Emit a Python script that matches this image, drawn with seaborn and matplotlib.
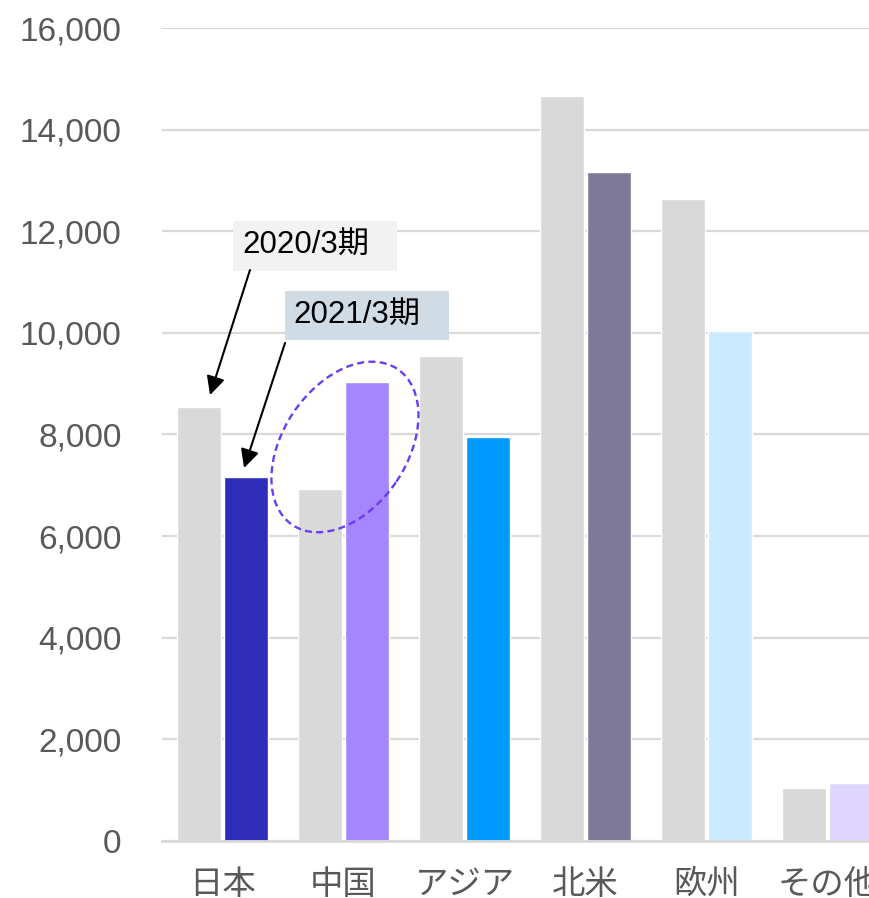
import pandas as pd
import matplotlib.pyplot as plt
import seaborn as sns
from matplotlib.patches import Ellipse, Rectangle
from matplotlib.transforms import ScaledTranslation
from matplotlib.ticker import FuncFormatter

regions = ['日本', '中国', 'アジア', '北米', '欧州', 'その他']
fy2020 = [8540, 6930, 9550, 14670, 12640, 1030]
fy2021 = [7160, 9030, 7950, 13170, 10040, 1130]
periods = ['2020/3期', '2021/3期']

gray = '#D9D9D9'
colors_2021 = ['#2F2CB9', '#A586FF', '#009BFF', '#7F7A99', '#CCEAFF', '#DED6FF']

df = pd.DataFrame({
    'region': regions * 2,
    'period': [periods[0]] * len(regions) + [periods[1]] * len(regions),
    'value': fy2020 + fy2021,
})

sns.set_style('white')
plt.rcParams['font.family'] = ['Liberation Sans', 'Noto Sans CJK JP']

fig = plt.figure(figsize=(8.7, 8.98), dpi=100)
ax = fig.add_axes([0.1862, 0.064, 0.8345, 0.9043])

sns.barplot(data=df, x='region', y='value', hue='period', palette=[gray, gray],
            width=0.776, gap=0.062, saturation=1, legend=False, ax=ax)

# each region gets its own colour for the 2021 bar
for patch, c in zip(ax.containers[1], colors_2021):
    patch.set_facecolor(c)

ax.set_xlim(-0.5, 5.5)
ax.set_ylim(0, 16000)
ax.set_yticks(range(0, 16001, 2000))
ax.yaxis.set_major_formatter(FuncFormatter(lambda v, p: '{:,.0f}'.format(v)))
ax.set_xlabel('')
ax.set_ylabel('')

ax.set_axisbelow(True)
ax.yaxis.grid(True, color=gray, linewidth=1.6)
for s in ['left', 'top', 'right']:
    ax.spines[s].set_visible(False)
ax.spines['bottom'].set_color(gray)
ax.spines['bottom'].set_linewidth(2)

ax.tick_params(axis='y', length=0, pad=29, labelsize=24, labelcolor='#595959')
ax.tick_params(axis='x', length=0, pad=19, labelsize=24, labelcolor='#595959')
for lbl in ax.get_xticklabels():
    lbl.set_family(['Noto Sans CJK JP'])

# label boxes with arrows
ax.add_patch(Rectangle((0.087, 11231), 1.355, 966, facecolor='#F2F2F2',
                       edgecolor='none', zorder=4))
ax.add_patch(Rectangle((0.517, 9862), 1.355, 966, facecolor='#CFDCE6',
                       edgecolor='none', zorder=4))
ax.text(0.161, 11724, periods[0], fontsize=22.5, color='black', va='center', ha='left', zorder=5)
ax.text(0.583, 10347, periods[1], fontsize=22.5, color='black', va='center', ha='left', zorder=5)

arrow = dict(arrowstyle='-|>', color='black', lw=1.5, mutation_scale=28,
             shrinkA=0, shrinkB=0)
ax.annotate('', xy=(-0.103, 8778), xytext=(0.227, 11241), arrowprops=arrow, zorder=6)
ax.annotate('', xy=(0.178, 7340), xytext=(0.517, 9803), arrowprops=arrow, zorder=6)

# dashed ellipse around the China bars
ell = Ellipse((0, 0), width=1.88, height=1.24, angle=56, fill=False,
              edgecolor='#6A3DF2', linewidth=1.7, linestyle=(0, (3, 1.8)),
              transform=fig.dpi_scale_trans + ScaledTranslation(1.012, 7754, ax.transData),
              zorder=6)
ax.add_patch(ell)

fig.savefig('out.png', dpi=100)
